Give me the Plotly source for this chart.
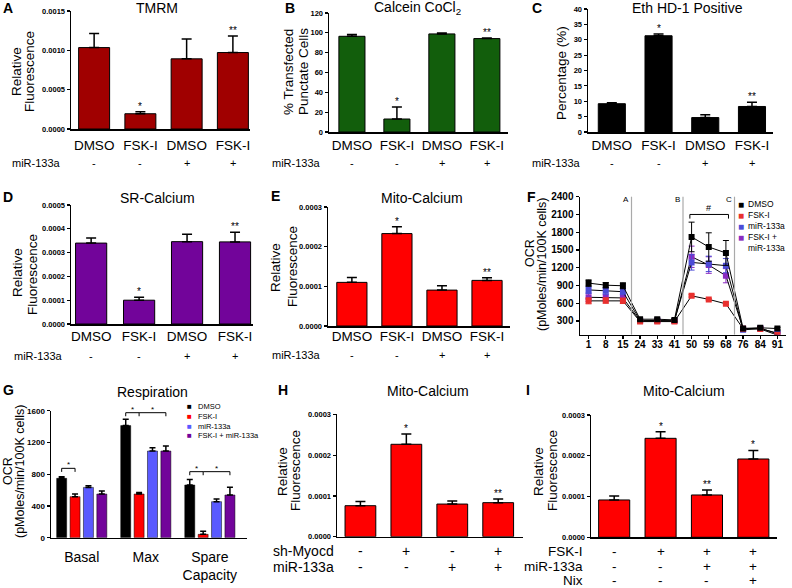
import plotly.graph_objects as go

# ---------------- data ----------------
treatments = ["DMSO", "FSK-I", "DMSO", "FSK-I"]
mir133a_row = ["-", "-", "+", "+"]

tmrm_mean = [0.001035, 0.000194, 0.000892, 0.000972]
tmrm_sem = [0.00018, 0.000025, 0.000253, 0.00021]
tmrm_sig = ["", "*", "", "**"]

calcein_mean = [96.5, 13.1, 98.9, 94.2]
calcein_sem = [1.7, 12.0, 1.0, 0.7]
calcein_sig = ["", "*", "", "**"]

ethd_mean = [9.2, 31.3, 4.7, 8.3]
ethd_sem = [0.35, 0.55, 0.9, 1.4]
ethd_sig = ["", "*", "", "**"]

sr_mean = [0.00034, 0.0001, 0.000346, 0.000345]
sr_sem = [0.000021, 0.000012, 0.000031, 0.00004]
sr_sig = ["", "*", "", "**"]

mito_mean = [0.00011, 0.000233, 0.0000905, 0.000115]
mito_sem = [0.0000125, 0.000017, 0.000011, 0.0000067]
mito_sig = ["", "*", "", "**"]

time_min = ["1", "8", "15", "24", "33", "41", "50", "59", "68", "76", "84", "91"]
ocr_series = ["DMSO", "FSK-I", "miR-133a", "FSK-I +<br>miR-133a"]
ocr_dmso = [940, 905, 895, 330, 330, 318, 1720, 1550, 1450, 175, 185, 172]
ocr_dmso_sem = [55, 45, 50, 20, 20, 20, 250, 240, 210, 20, 20, 20]
ocr_fski = [640, 645, 640, 290, 290, 290, 725, 665, 590, 170, 165, 62]
ocr_fski_sem = [50, 45, 45, 15, 15, 15, 20, 15, 15, 10, 10, 10]
ocr_mir = [825, 810, 795, 310, 310, 305, 1290, 1265, 1235, 150, 172, 95]
ocr_mir_sem = [60, 60, 50, 20, 20, 20, 130, 130, 120, 20, 20, 20]
ocr_combo = [700, 695, 690, 300, 300, 300, 1385, 1245, 1065, 168, 178, 85]
ocr_combo_sem = [70, 60, 60, 20, 20, 20, 180, 140, 120, 20, 20, 20]
injection_labels = ["A", "B", "C"]
injection_between = [(2, 3), (5, 6), (8, 9)]
hash_span = (6, 8)
hash_level = 2100

resp_groups = ["Basal", "Max", "Spare<br>Capacity"]
resp_series = ["DMSO", "FSK-I", "miR-133a", "FSK-I + miR-133a"]
resp_dmso = [748, 1412, 664]
resp_dmso_sem = [20, 80, 70]
resp_fski = [517, 550, 42]
resp_fski_sem = [33, 21, 40]
resp_mir = [634, 1092, 454]
resp_mir_sem = [20, 42, 34]
resp_combo = [550, 1092, 538]
resp_combo_sem = [38, 63, 97]
resp_brackets = [(0, [0, 1], 874), (1, [0, 1, 3], 1575), (2, [0, 1, 3], 832)]

shmyocd_row = ["-", "+", "-", "+"]
h_mir_row = ["-", "-", "+", "+"]
h_mean = [0.000076, 0.0002265, 0.00008, 0.0000834]
h_sem = [0.00001, 0.000025, 0.0000075, 0.000009]
h_sig = ["", "*", "", "**"]

i_fski_row = ["-", "+", "+", "+"]
i_mir_row = ["-", "-", "+", "+"]
i_nix_row = ["-", "-", "-", "+"]
i_mean = [0.0000916, 0.0002428, 0.0001038, 0.0001921]
i_sem = [0.00001, 0.000016, 0.000012, 0.000021]
i_sig = ["", "*", "**", "*"]

# ---------------- style / layout ----------------
FONT = "Liberation Sans, Arial, Helvetica, sans-serif"
W, H = 792, 588


def P(xp, yp):
    return xp / W, 1 - yp / H


fig = go.Figure()
annotations = []
shapes = []
layout_axes = {}


def text_at(text, xp, yp, size, angle=0, xanchor="center", yanchor="middle", color="black"):
    x, y = P(xp, yp)
    annotations.append(dict(text=text, x=x, y=y, xref="paper", yref="paper", showarrow=False,
                            xanchor=xanchor, yanchor=yanchor, textangle=angle, align="left",
                            font=dict(family=FONT, size=size, color=color)))


def ax_names(k):
    s = "" if k == 1 else str(k)
    return "x" + s, "y" + s, "xaxis" + s, "yaxis" + s


def setup_axes(k, xpx, ypx, xrange, yrange, ytickvals, ytickfmt, ytick_size=7.5,
               xtickvals=None, xticktext=None, xtick_size=13.5, xticks="", xtick_bold=False, standoff=5):
    xa, ya, xk, yk = ax_names(k)
    layout_axes[xk] = dict(domain=[xpx[0] / W, xpx[1] / W], range=xrange, anchor=ya,
                           showline=True, linecolor="black", linewidth=1.5, mirror=False,
                           showgrid=False, zeroline=False, ticks=xticks, ticklen=3, tickwidth=1.2,
                           tickcolor="black",
                           tickvals=xtickvals if xtickvals is not None else [],
                           ticktext=xticktext if xticktext is not None else [],
                           tickfont=dict(family=FONT, size=xtick_size, color="black",
                                         weight="bold" if xtick_bold else "normal"),
                           ticklabelstandoff=standoff, automargin=False, fixedrange=True)
    layout_axes[yk] = dict(domain=[1 - ypx[1] / H, 1 - ypx[0] / H], range=yrange, anchor=xa,
                           showline=True, linecolor="black", linewidth=1.5,
                           showgrid=False, zeroline=False, ticks="outside", ticklen=3, tickwidth=1.2,
                           tickcolor="black", tickmode="array", tickvals=ytickvals,
                           tickformat=ytickfmt,
                           tickfont=dict(family=FONT, size=ytick_size, color="black", weight="bold"),
                           automargin=False, fixedrange=True)


def add_bars(k, vals, errs, sig, color, bw, star_size=10):
    xa, ya, _, _ = ax_names(k)
    n = len(vals)
    fig.add_trace(go.Bar(x=list(range(n)), y=vals, width=bw, xaxis=xa, yaxis=ya, showlegend=False,
                         marker=dict(color=color, line=dict(color="black", width=1)),
                         error_y=dict(type="data", array=errs, arrayminus=[0] * n, symmetric=False,
                                      color="black", thickness=1.5, width=5)))
    for i, s in enumerate(sig):
        if s:
            annotations.append(dict(text=s, x=i, y=vals[i] + errs[i], xref=xa, yref=ya, showarrow=False,
                                    yanchor="bottom", yshift=-2,
                                    font=dict(family=FONT, size=star_size, color="black")))


def add_row(k, label, signs, yp, label_right, size):
    xa, _, _, _ = ax_names(k)
    text_at(label, label_right, yp, size, xanchor="right")
    _, y = P(0, yp)
    for i, s in enumerate(signs):
        annotations.append(dict(text=s, x=i, y=y, xref=xa, yref="paper", showarrow=False,
                                xanchor="center", yanchor="middle",
                                font=dict(family=FONT, size=size, color="black")))


def ticks(step, n):
    return [round(step * i, 10) for i in range(n + 1)]


# ---- A: TMRM ----
setup_axes(1, (71, 250), (11, 129), [-0.5, 3.37], [0, 0.0015 * 1.00001], ticks(0.0005, 3), ".4f",
           xtickvals=[0, 1, 2, 3], xticktext=treatments, standoff=3)
add_bars(1, tmrm_mean, tmrm_sem, tmrm_sig, "#A00000", 0.67)
add_row(1, "miR-133a", mir133a_row, 163, 63, 11)
text_at("TMRM", 157, 8, 14)
text_at("Relative", 16, 72, 13.5, angle=-90)
text_at("Fluorescence", 29, 72, 13.5, angle=-90)
text_at("<b>A</b>", 8, 8, 14)

# ---- B: Calcein ----
setup_axes(2, (329, 508), (13, 132), [-0.51, 3.47], [0, 120.001], ticks(20, 6), "d",
           xtickvals=[0, 1, 2, 3], xticktext=treatments, standoff=0)
add_bars(2, calcein_mean, calcein_sem, calcein_sig, "#125E0C", 0.58)
add_row(2, "miR-133a", mir133a_row, 163, 323, 11)
text_at("Calcein CoCl<sub>2</sub>", 417, 8, 14)
text_at("% Transfected", 288, 72, 13.5, angle=-90)
text_at("Punctate Cells", 303, 72, 13.5, angle=-90)
text_at("<b>B</b>", 290, 8, 14)

# ---- C: EthD-1 ----
setup_axes(3, (588, 773), (9, 132), [-0.51, 3.45], [0, 40.001], ticks(5, 8), "d",
           xtickvals=[0, 1, 2, 3], xticktext=treatments, standoff=0)
add_bars(3, ethd_mean, ethd_sem, ethd_sig, "#000000", 0.58)
add_row(3, "miR-133a", mir133a_row, 163, 583, 11)
text_at("Eth HD-1 Positive", 687, 8, 14)
text_at("Percentage (%)", 562, 73, 13.5, angle=-90)
text_at("<b>C</b>", 537, 8, 14)

# ---- D: SR-Calcium ----
setup_axes(4, (71, 253), (205, 324), [-0.42, 3.375], [0, 0.0005 * 1.00001], ticks(0.0001, 5), ".4f",
           xtickvals=[0, 1, 2, 3], xticktext=treatments, standoff=-1)
add_bars(4, sr_mean, sr_sem, sr_sig, "#72049A", 0.65)
add_row(4, "miR-133a", mir133a_row, 356, 65, 11)
text_at("SR-Calcium", 157, 198, 14)
text_at("Relative", 17, 273, 13.5, angle=-90)
text_at("Fluorescence", 32, 275, 13.5, angle=-90)
text_at("<b>D</b>", 8, 197, 14)

# ---- E: Mito-Calcium ----
setup_axes(5, (328, 510), (207, 326), [-0.53, 3.51], [0, 0.0003 * 1.00001], ticks(0.0001, 3), ".4f",
           xtickvals=[0, 1, 2, 3], xticktext=treatments, standoff=-3)
add_bars(5, mito_mean, mito_sem, mito_sig, "#FF0000", 0.67)
add_row(5, "miR-133a", mir133a_row, 355, 323, 11)
text_at("Mito-Calcium", 422, 198, 14)
text_at("Relative", 275, 268, 13.5, angle=-90)
text_at("Fluorescence", 292, 267, 13.5, angle=-90)
text_at("<b>E</b>", 275, 196, 14)

# ---- F: OCR time course ----
setup_axes(6, (580, 786), (196.7, 334.6), [-0.5, 11.5], [70, 2400.01], [300 * i for i in range(1, 9)], "d",
           ytick_size=10, xtickvals=list(range(12)), xticktext=time_min, xtick_size=10,
           xticks="outside", xtick_bold=True, standoff=-3)
f_colors = ["#000000", "#E8312F", "#4C4CD6", "#8A2BC0"]
f_data = [(ocr_dmso, ocr_dmso_sem), (ocr_fski, ocr_fski_sem), (ocr_mir, ocr_mir_sem), (ocr_combo, ocr_combo_sem)]
for idx in [3, 2, 1, 0]:
    vals, errs = f_data[idx]
    fig.add_trace(go.Scatter(x=list(range(len(time_min))), y=vals, mode="lines+markers",
                             xaxis="x6", yaxis="y6", showlegend=False,
                             line=dict(color="black", width=1),
                             marker=dict(symbol="square", size=6, color=f_colors[idx]),
                             error_y=dict(type="data", array=errs, color=f_colors[idx], thickness=1, width=3)))
for lab, (a, b) in zip(injection_labels, injection_between):
    xm = (a + b) / 2
    shapes.append(dict(type="line", xref="x6", yref="y6 domain", x0=xm, x1=xm, y0=0, y1=1,
                       line=dict(color="#AAAAAA", width=1.2)))
    annotations.append(dict(text=lab, x=xm, y=1 - 200 / H, xref="x6", yref="paper", showarrow=False,
                            xanchor="right", yanchor="middle", xshift=-1,
                            font=dict(family=FONT, size=8, color="black")))
h0, h1 = hash_span
shapes.append(dict(type="path", xref="x6", yref="y6",
                   path=f"M {h0 - 0.1},{hash_level - 70} L {h0 - 0.1},{hash_level} L {h1 + 0.15},{hash_level} L {h1 + 0.15},{hash_level - 70}",
                   line=dict(color="black", width=1)))
annotations.append(dict(text="#", x=(h0 + h1) / 2, y=hash_level, xref="x6", yref="y6", showarrow=False,
                        yanchor="bottom", yshift=-1, font=dict(family=FONT, size=9, color="black")))
# F legend (swatch column + text column)
f_swatch_lines = []
f_text_lines = []
for name, col in zip(ocr_series, f_colors):
    parts = name.split("<br>")
    f_swatch_lines.append(f"<span style='color:{col};font-size:10px'>■</span>")
    f_swatch_lines += [" "] * (len(parts) - 1)
    f_text_lines += parts
text_at("<br>".join(f_swatch_lines), 741, 197, 8.5, xanchor="center", yanchor="top")
text_at("<br>".join(f_text_lines), 746, 197, 8.5, xanchor="left", yanchor="top")
text_at("OCR", 530, 253, 12.5, angle=-90)
text_at("(pMoles/min/100K cells)", 542, 265, 12.5, angle=-90)
text_at("<b>F</b>", 531, 197, 14)

# ---- G: Respiration ----
setup_axes(7, (51, 247), (410.7, 537.7), [-0.48, 2.58], [0, 1600.01], ticks(400, 4), "d",
           ytick_size=8, xtickvals=[0, 1, 2], xticktext=resp_groups, xtick_size=14, standoff=6)
g_colors = ["#000000", "#FF0000", "#5A5AFF", "#72049A"]
g_data = [(resp_dmso, resp_dmso_sem), (resp_fski, resp_fski_sem), (resp_mir, resp_mir_sem), (resp_combo, resp_combo_sem)]
slot, bw = 0.209, 0.156
for k, ((vals, errs), col, name) in enumerate(zip(g_data, g_colors, resp_series)):
    fig.add_trace(go.Bar(x=list(range(len(resp_groups))), y=vals, width=bw, offset=(k - 1.5) * slot - bw / 2,
                         xaxis="x7", yaxis="y7", showlegend=False, name=name,
                         marker=dict(color=col, line=dict(color="black", width=0.5)),
                         error_y=dict(type="data", array=errs, arrayminus=[0] * len(vals), symmetric=False,
                                      color="black", thickness=1.5, width=3)))
for g, members, level in resp_brackets:
    xs = [g + (m - 1.5) * slot for m in members]
    path = f"M {xs[0]},{level - 45} L {xs[0]},{level}"
    for xx in xs[1:]:
        path += f" L {xx},{level} L {xx},{level - 45} M {xx},{level}"
    shapes.append(dict(type="path", xref="x7", yref="y7", path=path, line=dict(color="black", width=1)))
    for a, b in zip(xs[:-1], xs[1:]):
        annotations.append(dict(text="*", x=(a + b) / 2, y=level, xref="x7", yref="y7", showarrow=False,
                                yanchor="bottom", yshift=-3, font=dict(family=FONT, size=8, color="black")))
g_swatches = "<br>".join(f"<span style='color:{c};font-size:8px'>■</span>" for c in g_colors)
text_at(g_swatches, 189, 400, 7.5, xanchor="center", yanchor="top")
text_at("<br>".join(resp_series), 196, 400, 7.5, xanchor="left", yanchor="top")
text_at("Respiration", 152, 392, 14)
text_at("OCR", 8, 471, 12.5, angle=-90)
text_at("(pMoles/min/100K cells)", 20, 472, 12.5, angle=-90)
text_at("<b>G</b>", 8, 390, 14)

# ---- H: Mito-Calcium sh-Myocd ----
setup_axes(8, (337, 523), (414.3, 536.7), [-0.51, 3.54], [0, 0.0003 * 1.00001], ticks(0.0001, 3), ".4f")
add_bars(8, h_mean, h_sem, h_sig, "#FF0000", 0.67)
add_row(8, "sh-Myocd", shmyocd_row, 551, 336, 14)
add_row(8, "miR-133a", h_mir_row, 567, 336, 14)
text_at("Mito-Calcium", 428, 391, 14)
text_at("Relative", 282, 472, 13.5, angle=-90)
text_at("Fluorescence", 296, 471, 13.5, angle=-90)
text_at("<b>H</b>", 283, 390, 14)

# ---- I: Mito-Calcium Nix ----
setup_axes(9, (591, 777), (415, 537.3), [-0.5, 3.51], [0, 0.0003 * 1.00001], ticks(0.0001, 3), ".4f")
add_bars(9, i_mean, i_sem, i_sig, "#FF0000", 0.67)
add_row(9, "FSK-I", i_fski_row, 551, 585, 13.5)
add_row(9, "miR-133a", i_mir_row, 566, 585, 13.5)
add_row(9, "Nix", i_nix_row, 580, 585, 13.5)
text_at("Mito-Calcium", 684, 391, 14)
text_at("Relative", 538, 472, 13.5, angle=-90)
text_at("Fluorescence", 553, 471, 13.5, angle=-90)
text_at("<b>I</b>", 528, 390, 14)

fig.update_layout(template="none", width=W, height=H, margin=dict(l=0, r=0, t=0, b=0),
                  paper_bgcolor="white", plot_bgcolor="rgba(0,0,0,0)",
                  font=dict(family=FONT, color="black"), barmode="overlay",
                  annotations=annotations, shapes=shapes, showlegend=False, **layout_axes)
fig.write_html("out.html", config={"displayModeBar": False, "staticPlot": True},
               post_script="document.body.style.margin='0';document.body.style.padding='0';"
                           "document.body.style.overflow='hidden';")
